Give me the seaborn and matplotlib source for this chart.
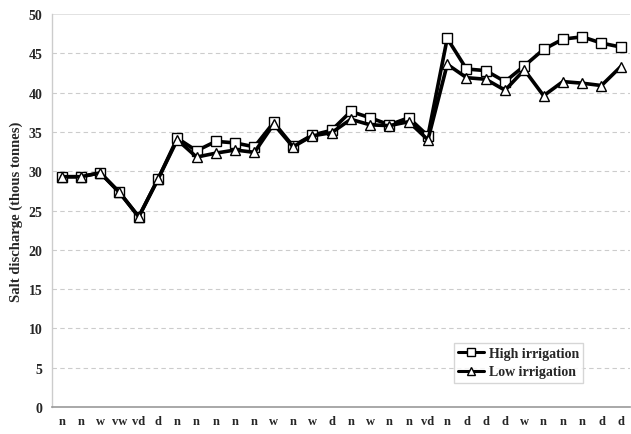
import matplotlib
matplotlib.use("Agg")
import matplotlib.pyplot as plt
import seaborn as sns
import pandas as pd
import numpy as np
from matplotlib.lines import Line2D

categories = ["n", "n", "w", "vw", "vd", "d", "n", "n", "n", "n", "n", "w", "n", "w", "d",
              "n", "w", "n", "n", "vd", "n", "d", "d", "d", "w", "n", "n", "n", "d", "d"]
high_irrigation = [29.3, 29.3, 29.8, 27.3, 24.2, 29.0, 34.2, 32.6, 33.8, 33.6, 33.1, 36.2, 33.2, 34.6, 35.2,
                   37.6, 36.8, 35.9, 36.8, 34.5, 46.9, 43.0, 42.8, 41.4, 43.4, 45.5, 46.8, 47.1, 46.3, 45.8]
low_irrigation = [29.3, 29.3, 29.8, 27.3, 24.2, 29.0, 34.0, 31.8, 32.3, 32.7, 32.4, 36.0, 33.1, 34.5, 34.9,
                  36.6, 35.9, 35.8, 36.3, 34.0, 43.6, 41.9, 41.7, 40.3, 42.9, 39.6, 41.4, 41.2, 40.9, 43.3]
series_names = ["High irrigation", "Low irrigation"]
y_ticks = [0, 5, 10, 15, 20, 25, 30, 35, 40, 45, 50]

sns.set_style("white")
plt.rcParams['font.family'] = ['Liberation Serif', 'DejaVu Serif']
plt.rcParams['font.weight'] = 'bold'

n = len(categories)
df = pd.DataFrame({
    "idx": list(range(n)) * 2,
    "value": high_irrigation + low_irrigation,
    "series": [series_names[0]] * n + [series_names[1]] * n,
})

fig = plt.figure(figsize=(6.31, 4.35), dpi=100)
ax = fig.add_axes([0.0824, 0.062, 0.9166, 0.9035])

markers = {series_names[0]: "s", series_names[1]: "^"}
sns.lineplot(data=df, x="idx", y="value", hue="series", style="series",
             markers=markers, dashes=False, palette=["black", "black"],
             linewidth=2.6, markersize=7, markeredgewidth=1.0,
             markerfacecolor="white", markeredgecolor="black",
             ax=ax, legend=False)
for ln in ax.lines:
    ln.set_markerfacecolor("white")
    ln.set_markeredgecolor("black")

ax.set_xlim(-0.5, n - 0.5)
ax.set_ylim(0, 50)
ax.set_yticks(y_ticks)
ax.set_yticklabels([str(t) for t in y_ticks], fontsize=10, fontweight='bold')
ax.set_xticks(range(n))
ax.set_xticklabels(categories, fontsize=9, fontweight='bold')
ax.set_xticks(np.arange(-0.5, n, 1), minor=True)
ax.tick_params(axis='x', which='major', length=0, pad=6)
ax.tick_params(axis='x', which='minor', length=4, direction='inout', color='#aaaaaa')
ax.tick_params(axis='y', which='major', length=4, direction='out', color='#bbbbbb', pad=3)
ax.set_xlabel("")
ax.set_ylabel("Salt discharge (thous tonnes)", fontsize=10.5, fontweight='bold', labelpad=4)

for t in y_ticks[1:-1]:
    ax.axhline(t, color='#cccccc', linestyle=(0, (4, 3)), linewidth=0.8, zorder=0)

for side in ["top", "right"]:
    ax.spines[side].set_visible(False)
ax.axhline(50, color='#dddddd', linewidth=1.2, zorder=0)
ax.spines["left"].set_color("#cccccc")
ax.spines["bottom"].set_color("#999999")
ax.spines["left"].set_linewidth(1.0)
ax.spines["bottom"].set_linewidth(1.2)

handles = [Line2D([], [], color='black', linewidth=2.2, marker=markers[s], markersize=5.5,
                  markerfacecolor='white', markeredgecolor='black') for s in series_names]
leg = ax.legend(handles, series_names, loc='lower right', bbox_to_anchor=(0.918, 0.062),
                frameon=True, fancybox=False, fontsize=10, handlelength=1.9,
                handletextpad=0.3, borderpad=0.3, labelspacing=0.4, borderaxespad=0)
leg.get_frame().set_edgecolor('#cccccc')
leg.get_frame().set_linewidth(1.0)
for txt in leg.get_texts():
    txt.set_fontweight('bold')

fig.savefig("out.png", dpi=100)
